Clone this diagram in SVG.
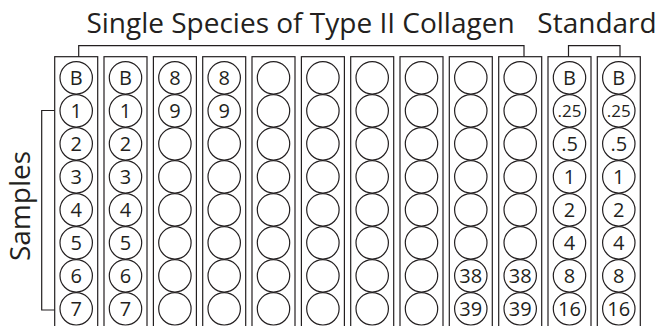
<svg xmlns="http://www.w3.org/2000/svg" width="658" height="326" viewBox="0 0 658 326">
<style>
.strip{fill:none;stroke:#231f20;stroke-width:1.2}
.well{fill:#fff;stroke:#231f20;stroke-width:1.2}
.lbl{font-family:"Open Sans","Noto Sans",sans-serif;font-size:20px;fill:#231f20;text-anchor:middle}
.sm{font-size:17px}
.head{font-family:"Open Sans","Noto Sans",sans-serif;font-size:28px;fill:#231f20;text-anchor:middle}
.br{fill:none;stroke:#231f20;stroke-width:1.2}
</style>
<defs>
<circle id="w" r="16.2" class="well"/>
</defs>
<text class="head" x="300.5" y="33">Single Species of Type II Collagen</text>
<text class="head" x="597" y="33">Standard</text>
<text class="head" transform="translate(29.5,206) rotate(-90)">Samples</text>
<g id="connectors">
<path class="br" d="M78.7,56.7V45.7H524V56.7"/>
<path class="br" d="M568.5,56.7V45.7H620V56.7"/>
<path class="br" d="M54.7,110.5H41.7V310H54.7"/>
</g>
<g id="strip1">
<rect class="strip" x="54.7" y="56.7" width="43" height="280"/>
<use href="#w" x="76.2" y="77.8"/><use href="#w" x="76.2" y="110.8"/><use href="#w" x="76.2" y="143.8"/><use href="#w" x="76.2" y="176.8"/><use href="#w" x="76.2" y="209.8"/><use href="#w" x="76.2" y="242.8"/><use href="#w" x="76.2" y="275.8"/><use href="#w" x="76.2" y="308.8"/>
<text class="lbl" x="76.2" y="84.9">B</text><text class="lbl" x="76.2" y="117.9">1</text><text class="lbl" x="76.2" y="150.9">2</text><text class="lbl" x="76.2" y="183.9">3</text><text class="lbl" x="76.2" y="216.9">4</text><text class="lbl" x="76.2" y="249.9">5</text><text class="lbl" x="76.2" y="282.9">6</text><text class="lbl" x="76.2" y="315.9">7</text>
</g>
<g id="strip2">
<rect class="strip" x="104" y="56.7" width="43" height="280"/>
<use href="#w" x="125.5" y="77.8"/><use href="#w" x="125.5" y="110.8"/><use href="#w" x="125.5" y="143.8"/><use href="#w" x="125.5" y="176.8"/><use href="#w" x="125.5" y="209.8"/><use href="#w" x="125.5" y="242.8"/><use href="#w" x="125.5" y="275.8"/><use href="#w" x="125.5" y="308.8"/>
<text class="lbl" x="125.5" y="84.9">B</text><text class="lbl" x="125.5" y="117.9">1</text><text class="lbl" x="125.5" y="150.9">2</text><text class="lbl" x="125.5" y="183.9">3</text><text class="lbl" x="125.5" y="216.9">4</text><text class="lbl" x="125.5" y="249.9">5</text><text class="lbl" x="125.5" y="282.9">6</text><text class="lbl" x="125.5" y="315.9">7</text>
</g>
<g id="strip3">
<rect class="strip" x="153.4" y="56.7" width="43" height="280"/>
<use href="#w" x="174.9" y="77.8"/><use href="#w" x="174.9" y="110.8"/><use href="#w" x="174.9" y="143.8"/><use href="#w" x="174.9" y="176.8"/><use href="#w" x="174.9" y="209.8"/><use href="#w" x="174.9" y="242.8"/><use href="#w" x="174.9" y="275.8"/><use href="#w" x="174.9" y="308.8"/>
<text class="lbl" x="174.9" y="84.9">8</text><text class="lbl" x="174.9" y="117.9">9</text>
</g>
<g id="strip4">
<rect class="strip" x="202.7" y="56.7" width="43" height="280"/>
<use href="#w" x="224.2" y="77.8"/><use href="#w" x="224.2" y="110.8"/><use href="#w" x="224.2" y="143.8"/><use href="#w" x="224.2" y="176.8"/><use href="#w" x="224.2" y="209.8"/><use href="#w" x="224.2" y="242.8"/><use href="#w" x="224.2" y="275.8"/><use href="#w" x="224.2" y="308.8"/>
<text class="lbl" x="224.2" y="84.9">8</text><text class="lbl" x="224.2" y="117.9">9</text>
</g>
<g id="strip5">
<rect class="strip" x="252" y="56.7" width="43" height="280"/>
<use href="#w" x="273.5" y="77.8"/><use href="#w" x="273.5" y="110.8"/><use href="#w" x="273.5" y="143.8"/><use href="#w" x="273.5" y="176.8"/><use href="#w" x="273.5" y="209.8"/><use href="#w" x="273.5" y="242.8"/><use href="#w" x="273.5" y="275.8"/><use href="#w" x="273.5" y="308.8"/>
</g>
<g id="strip6">
<rect class="strip" x="301.4" y="56.7" width="43" height="280"/>
<use href="#w" x="322.9" y="77.8"/><use href="#w" x="322.9" y="110.8"/><use href="#w" x="322.9" y="143.8"/><use href="#w" x="322.9" y="176.8"/><use href="#w" x="322.9" y="209.8"/><use href="#w" x="322.9" y="242.8"/><use href="#w" x="322.9" y="275.8"/><use href="#w" x="322.9" y="308.8"/>
</g>
<g id="strip7">
<rect class="strip" x="350.7" y="56.7" width="43" height="280"/>
<use href="#w" x="372.2" y="77.8"/><use href="#w" x="372.2" y="110.8"/><use href="#w" x="372.2" y="143.8"/><use href="#w" x="372.2" y="176.8"/><use href="#w" x="372.2" y="209.8"/><use href="#w" x="372.2" y="242.8"/><use href="#w" x="372.2" y="275.8"/><use href="#w" x="372.2" y="308.8"/>
</g>
<g id="strip8">
<rect class="strip" x="400" y="56.7" width="43" height="280"/>
<use href="#w" x="421.5" y="77.8"/><use href="#w" x="421.5" y="110.8"/><use href="#w" x="421.5" y="143.8"/><use href="#w" x="421.5" y="176.8"/><use href="#w" x="421.5" y="209.8"/><use href="#w" x="421.5" y="242.8"/><use href="#w" x="421.5" y="275.8"/><use href="#w" x="421.5" y="308.8"/>
</g>
<g id="strip9">
<rect class="strip" x="449.3" y="56.7" width="43" height="280"/>
<use href="#w" x="470.8" y="77.8"/><use href="#w" x="470.8" y="110.8"/><use href="#w" x="470.8" y="143.8"/><use href="#w" x="470.8" y="176.8"/><use href="#w" x="470.8" y="209.8"/><use href="#w" x="470.8" y="242.8"/><use href="#w" x="470.8" y="275.8"/><use href="#w" x="470.8" y="308.8"/>
<text class="lbl" x="470.8" y="282.9">38</text><text class="lbl" x="470.8" y="315.9">39</text>
</g>
<g id="strip10">
<rect class="strip" x="498.7" y="56.7" width="43" height="280"/>
<use href="#w" x="520.2" y="77.8"/><use href="#w" x="520.2" y="110.8"/><use href="#w" x="520.2" y="143.8"/><use href="#w" x="520.2" y="176.8"/><use href="#w" x="520.2" y="209.8"/><use href="#w" x="520.2" y="242.8"/><use href="#w" x="520.2" y="275.8"/><use href="#w" x="520.2" y="308.8"/>
<text class="lbl" x="520.2" y="282.9">38</text><text class="lbl" x="520.2" y="315.9">39</text>
</g>
<g id="strip11">
<rect class="strip" x="548" y="56.7" width="43" height="280"/>
<use href="#w" x="569.5" y="77.8"/><use href="#w" x="569.5" y="110.8"/><use href="#w" x="569.5" y="143.8"/><use href="#w" x="569.5" y="176.8"/><use href="#w" x="569.5" y="209.8"/><use href="#w" x="569.5" y="242.8"/><use href="#w" x="569.5" y="275.8"/><use href="#w" x="569.5" y="308.8"/>
<text class="lbl" x="569.5" y="84.9">B</text><text class="lbl sm" x="569.5" y="116.8">.25</text><text class="lbl" x="569.5" y="150.9">.5</text><text class="lbl" x="569.5" y="183.9">1</text><text class="lbl" x="569.5" y="216.9">2</text><text class="lbl" x="569.5" y="249.9">4</text><text class="lbl" x="569.5" y="282.9">8</text><text class="lbl" x="569.5" y="315.9">16</text>
</g>
<g id="strip12">
<rect class="strip" x="597.3" y="56.7" width="43" height="280"/>
<use href="#w" x="618.8" y="77.8"/><use href="#w" x="618.8" y="110.8"/><use href="#w" x="618.8" y="143.8"/><use href="#w" x="618.8" y="176.8"/><use href="#w" x="618.8" y="209.8"/><use href="#w" x="618.8" y="242.8"/><use href="#w" x="618.8" y="275.8"/><use href="#w" x="618.8" y="308.8"/>
<text class="lbl" x="618.8" y="84.9">B</text><text class="lbl sm" x="618.8" y="116.8">.25</text><text class="lbl" x="618.8" y="150.9">.5</text><text class="lbl" x="618.8" y="183.9">1</text><text class="lbl" x="618.8" y="216.9">2</text><text class="lbl" x="618.8" y="249.9">4</text><text class="lbl" x="618.8" y="282.9">8</text><text class="lbl" x="618.8" y="315.9">16</text>
</g>
</svg>
